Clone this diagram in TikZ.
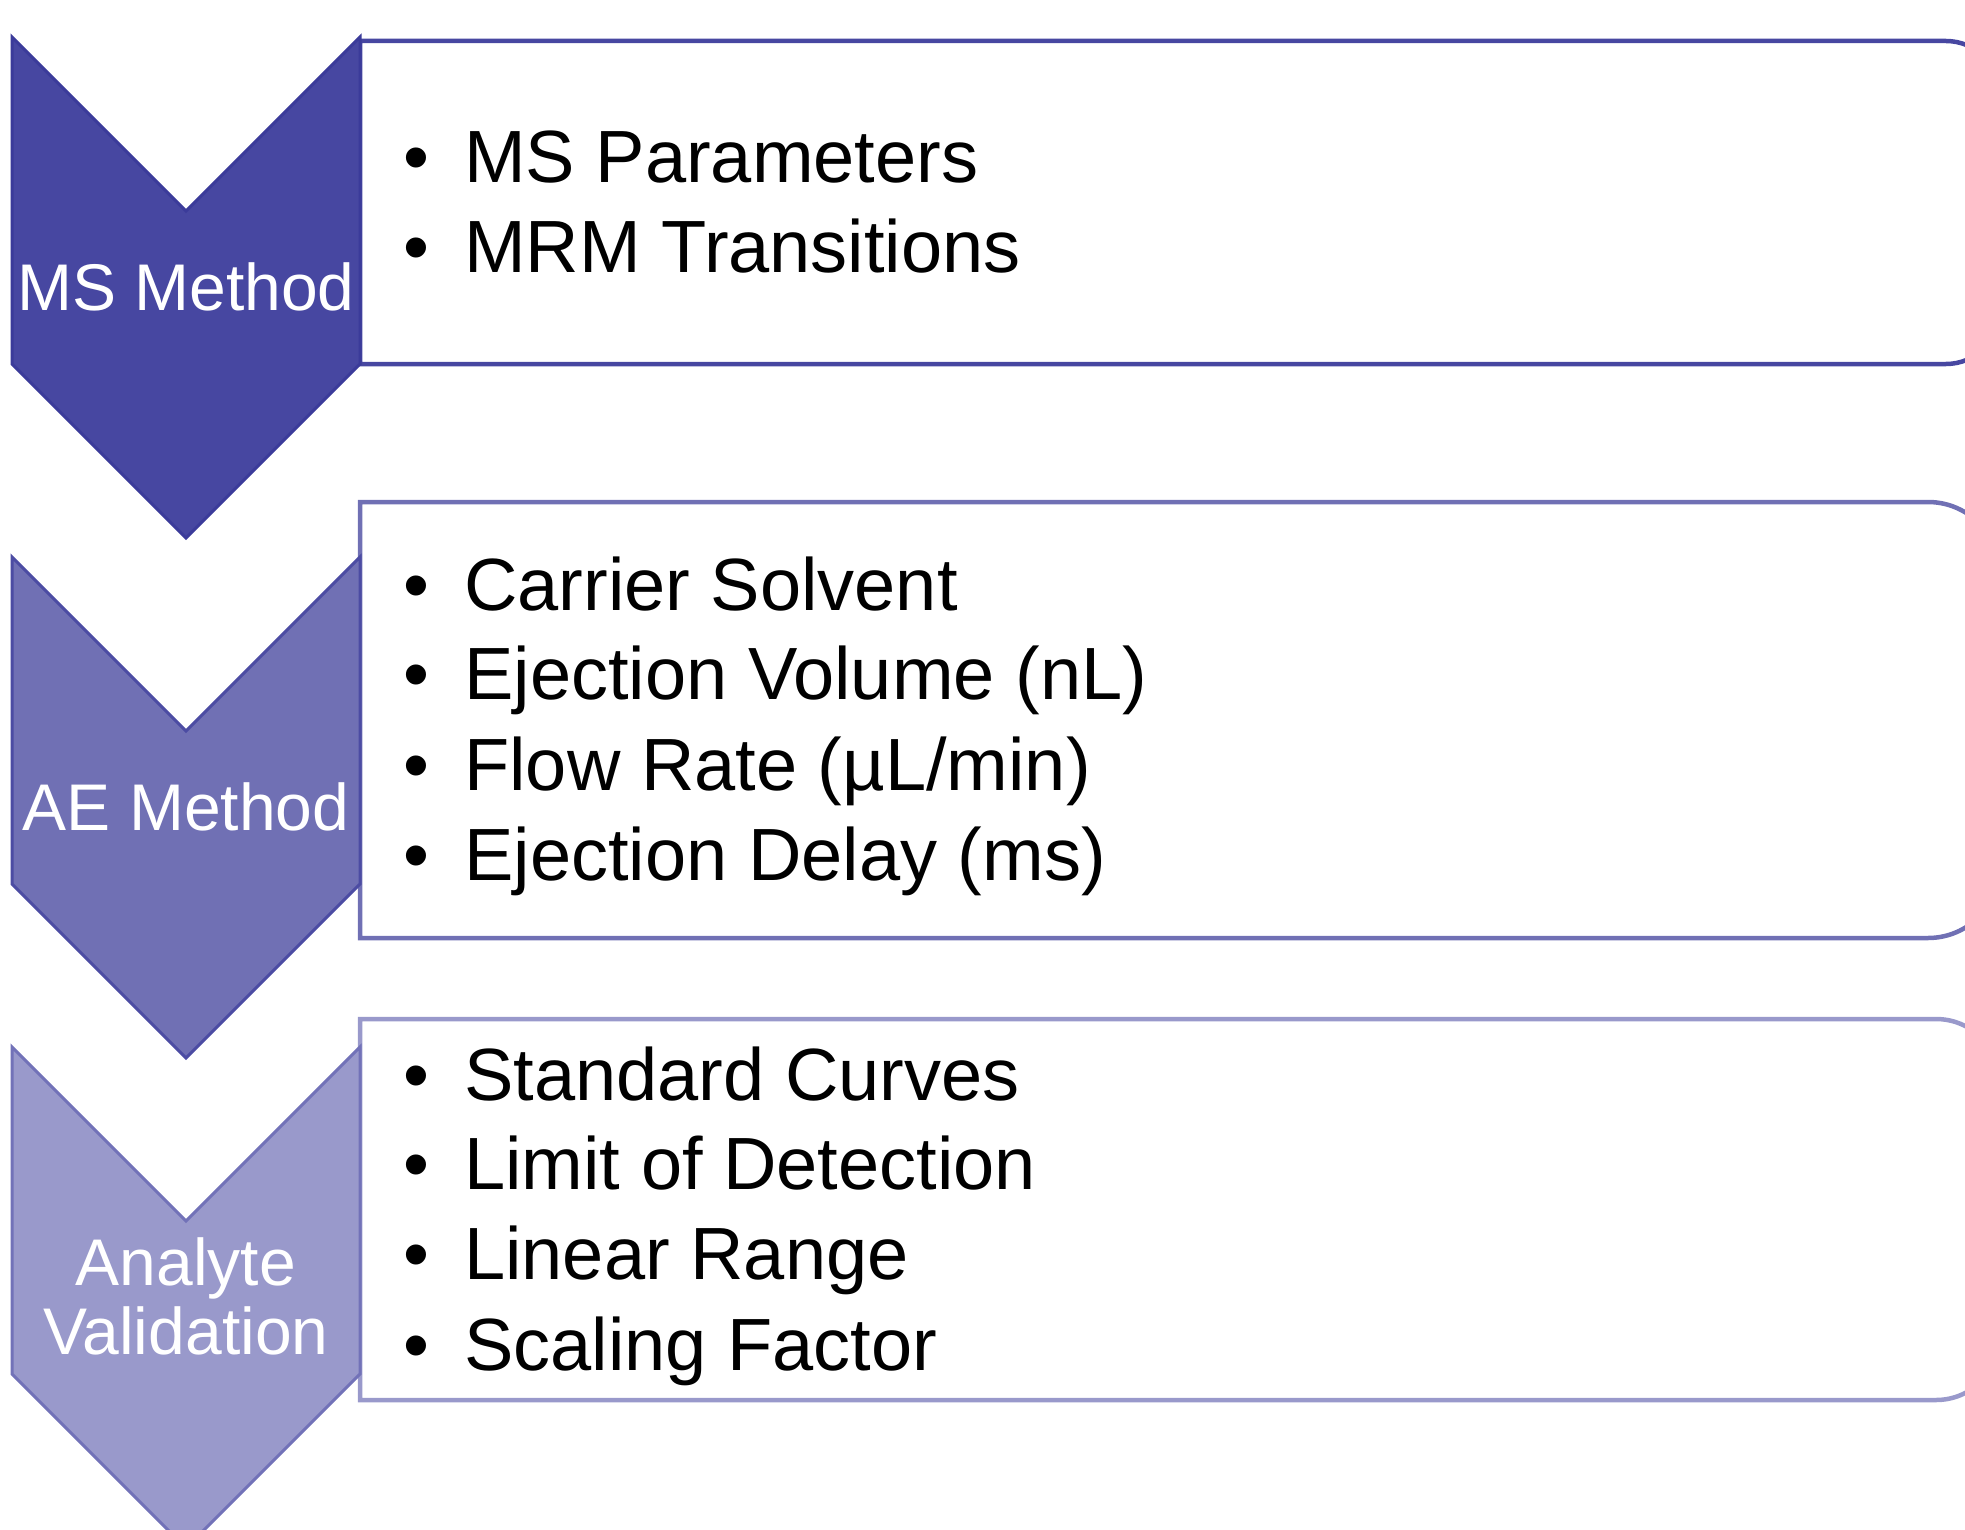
\documentclass[tikz,border=0pt]{standalone}
\usepackage{fontspec}
\setmainfont{Liberation Sans}
\usepackage{tikz}

\newcommand{\itemfont}{\fontsize{37}{44.5}\selectfont}
\newcommand{\chevfont}{\fontsize{33}{34.5}\selectfont}

\begin{document}
\begin{tikzpicture}[x=0.5pt, y=-0.5pt,
  chev/.style={line width=1.5pt, line join=miter},
  box/.style={line width=2.25pt},
  item/.style={anchor=base west, inner sep=0pt, font=\itemfont},
  lab/.style={text=white, inner sep=0pt, align=center, font=\chevfont}]

% Colori
\definecolor{colMS}{HTML}{4747A1}
\definecolor{colMSd}{HTML}{3B3B9A}
\definecolor{colAE}{HTML}{7070B4}
\definecolor{colAEd}{HTML}{4C4CA3}
\definecolor{colAV}{HTML}{9999CB}
\definecolor{colAVd}{HTML}{7272B8}

\clip (0,0) rectangle (1965,1530);

% Riquadri (lato destro tagliato)
\draw[box, draw=colMS] (360,364) -- (360,41) -- (1946,41)
  arc[start angle=90, end angle=0, radius=27pt] -- (2000,310)
  arc[start angle=0, end angle=-90, radius=27pt] -- cycle;

\draw[box, draw=colAE] (360,938) -- (360,502) -- (1928,502)
  arc[start angle=90, end angle=0, radius=36pt] -- (2000,866)
  arc[start angle=0, end angle=-90, radius=36pt] -- cycle;

\draw[box, draw=colAV] (360,1400) -- (360,1019) -- (1936,1019)
  arc[start angle=90, end angle=0, radius=32pt] -- (2000,1336)
  arc[start angle=0, end angle=-90, radius=32pt] -- cycle;

% Frecce
\draw[chev, fill=colMS, draw=colMSd]
  (12,37) -- (186,211) -- (360,37) -- (360,364) -- (186,538) -- (12,364) -- cycle;

\draw[chev, fill=colAE, draw=colAEd]
  (12,557) -- (186,731) -- (360,557) -- (360,884) -- (186,1058) -- (12,884) -- cycle;

\draw[chev, fill=colAV, draw=colAVd]
  (12,1047) -- (186,1221) -- (360,1047) -- (360,1374) -- (186,1548) -- (12,1374) -- cycle;

% Etichette
\node[lab, anchor=base] (msm) at (186,311) {MS Method};
\node[lab, anchor=base] (aem) at (186,830) {AE Method};
\node[lab] (anv) at (186,1296) {Analyte\\Validation};

% MS Method
\node[item] (msp) at (403,183) {•\hspace{17.5pt}MS Parameters};
\node[item] (mrm) at (403,272) {•\hspace{17.5pt}MRM Transitions};

% AE Method
\node[item] (cs) at (403,610) {•\hspace{17.5pt}Carrier Solvent};
\node[item] (ev) at (403,699) {•\hspace{17.5pt}Ejection Volume (nL)};
\node[item] (fr) at (403,790) {•\hspace{17.5pt}Flow Rate (µL/min)};
\node[item] (ed) at (403,880) {•\hspace{17.5pt}Ejection Delay (ms)};

% Analyte Validation
\node[item] (sc) at (403,1100) {•\hspace{17.5pt}Standard Curves};
\node[item] (lod) at (403,1189) {•\hspace{17.5pt}Limit of Detection};
\node[item] (lr) at (403,1279) {•\hspace{17.5pt}Linear Range};
\node[item] (sf) at (403,1370) {•\hspace{17.5pt}Scaling Factor};

\end{tikzpicture}
\end{document}
